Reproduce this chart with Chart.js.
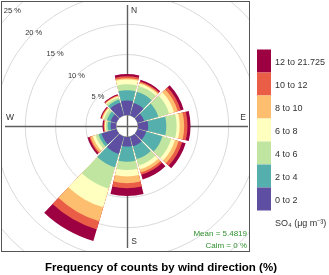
<!DOCTYPE html>
<html><head><meta charset="utf-8">
<script src="https://cdn.jsdelivr.net/npm/chart.js@4.4.0/dist/chart.umd.min.js"></script>
<style>html,body{margin:0;padding:0;background:#fff;overflow:hidden}canvas{display:block}</style>
</head><body>
<canvas id="c" width="329" height="275" style="width:329px;height:275px"></canvas>
<script>
// wind direction sectors (30 degree bins, clockwise from north)
const directions = ['N', '30', '60', 'E', '120', '150', 'S', '210', '240', 'W', '300', '330'];
// SO4 concentration bands
const bandLabels = ['0 to 2', '2 to 4', '4 to 6', '6 to 8', '8 to 10', '10 to 12', '12 to 21.725'];
const bandColors = ['#5E4FA2', '#55AFAD', '#BFE5A0', '#FFFFBF', '#FDBF6F', '#EA5D47', '#9E0142'];
// frequency of counts (%) per band, per direction
const f0to2   = [2.40, 2.15, 1.15, 1.70, 1.50, 1.70, 1.60, 3.00, 2.60, 0.90, 1.00, 2.20];
const f2to4   = [1.70, 1.95, 2.45, 3.00, 2.80, 2.20, 2.50, 2.30, 0.50, 0.50, 0.65, 0.55];
const f4to6   = [1.00, 1.00, 1.85, 1.70, 1.50, 1.10, 1.35, 3.70, 0.50, 0.30, 0.50, 0.35];
const f6to8   = [0.80, 0.40, 0.85, 0.50, 0.65, 0.70, 1.10, 3.20, 0.50, 0.15, 0.25, 0.20];
const f8to10  = [0.20, 0.20, 0.65, 0.75, 0.65, 0.50, 1.10, 2.40, 0.40, 0.10, 0.15, 0.10];
const f10to12 = [0.30, 0.20, 0.50, 0.55, 0.60, 0.40, 0.85, 1.40, 0.20, 0.10, 0.10, 0.10];
const f12up   = [0.40, 0.25, 0.50, 0.50, 0.60, 0.80, 1.25, 2.00, 0.30, 0.20, 0.15, 0.15];
// grid circle values (%)
const gridTicks = [5, 10, 15, 20, 25];
const meanText = 'Mean = 5.4819';
const calmText = 'Calm = 0 %';
const titleText = 'Frequency of counts by wind direction (%)';
const unitText = 'SO\u2084 (\u03bcg m\u207b\u00b3)';

const bands = [f0to2, f2to4, f4to6, f6to8, f8to10, f10to12, f12up];
// stacked (cumulative) radii for the rose
const cumulative = bands.map((b, k) => directions.map((_, i) => {
  let s = 0; for (let j = 0; j <= k; j++) s += bands[j][i]; return s;
}));

const FONT = '"Liberation Sans", Arial, sans-serif';

const roseDecor = {
  id: 'roseDecor',
  afterDatasetsUpdate(chart) {
    const s = chart.scales.r;
    const inner = s.getDistanceFromCenterForValue(0);
    const gap = 1.3 * Math.PI / 180;
    chart.data.datasets.forEach((ds, di) => {
      chart.getDatasetMeta(di).data.forEach(arc => {
        arc.innerRadius = inner;
        arc.startAngle += gap;
        arc.endAngle -= gap;
      });
    });
  },
  beforeDatasetsDraw(chart) {
    const ctx = chart.ctx, s = chart.scales.r;
    const cx = s.xCenter, cy = s.yCenter;
    ctx.save();
    ctx.beginPath();
    ctx.rect(cx - 125.5, cy - 124.5, 248, 250);
    ctx.clip();
    ctx.strokeStyle = '#d9d9d9';
    ctx.lineWidth = 1;
    [0].concat(gridTicks).forEach(v => {
      ctx.beginPath();
      ctx.arc(cx, cy, s.getDistanceFromCenterForValue(v), 0, Math.PI * 2);
      ctx.stroke();
    });
    const L = s.drawingArea - 3;
    ctx.strokeStyle = '#5f5f5f';
    ctx.lineWidth = 1.4;
    ctx.beginPath();
    ctx.moveTo(cx + 0.5, cy - L + 1); ctx.lineTo(cx + 0.5, cy + L);
    ctx.moveTo(cx - L, cy + 0.5); ctx.lineTo(cx + L - 1, cy + 0.5);
    ctx.stroke();
    ctx.restore();
  },
  afterDraw(chart) {
    const ctx = chart.ctx, s = chart.scales.r;
    const cx = s.xCenter, cy = s.yCenter;
    ctx.save();
    // grid labels along 315 degrees
    ctx.fillStyle = '#333';
    ctx.font = '7.5px ' + FONT;
    ctx.textAlign = 'center';
    ctx.textBaseline = 'middle';
    gridTicks.forEach(v => {
      const r = s.getDistanceFromCenterForValue(v);
      ctx.fillText(v + ' %', cx - r * Math.SQRT1_2, cy - r * Math.SQRT1_2);
    });
    // compass labels
    ctx.font = '8.5px ' + FONT;
    ctx.fillStyle = '#333';
    ctx.fillText('N', cx + 7, cy - 115);
    ctx.fillText('S', cx + 7, cy + 116);
    ctx.fillText('E', cx + 116, cy - 8);
    ctx.fillText('W', cx - 117, cy - 8);
    // panel border
    ctx.strokeStyle = '#555';
    ctx.lineWidth = 1;
    ctx.strokeRect(cx - 125.5, cy - 124.5, 248, 250);
    // mean / calm
    ctx.fillStyle = '#2f8f2f';
    ctx.font = '8px ' + FONT;
    ctx.textAlign = 'right';
    ctx.fillText(meanText, cx + 120, cy + 108);
    ctx.fillText(calmText, cx + 120, cy + 120);
    // colour key
    const kx = 257, ky = 49.5, kh = 23, kw = 14;
    ctx.textAlign = 'left';
    ctx.font = '9px ' + FONT;
    for (let k = bandLabels.length - 1, row = 0; k >= 0; k--, row++) {
      ctx.fillStyle = bandColors[k];
      ctx.fillRect(kx, ky + row * kh, kw, kh);
      ctx.fillStyle = '#333';
      ctx.fillText(bandLabels[k], kx + 18, ky + row * kh + kh / 2 + 2);
    }
    ctx.fillText(unitText, kx + 18, ky + 7 * kh + 13);
    // title
    ctx.fillStyle = '#000';
    ctx.font = 'bold 11.5px ' + FONT;
    ctx.textAlign = 'center';
    ctx.fillText(titleText, 161, 268);
    ctx.restore();
  }
};

new Chart(document.getElementById('c'), {
  type: 'polarArea',
  data: {
    labels: directions,
    datasets: bandLabels.map((lab, k) => ({
      label: lab,
      data: cumulative[k],
      backgroundColor: bandColors[k],
      borderWidth: 0
    }))
  },
  options: {
    responsive: false,
    animation: false,
    devicePixelRatio: 1,
    layout: { padding: { left: 2, right: 77, top: 1, bottom: 23 } },
    plugins: { legend: { display: false }, tooltip: { enabled: false }, title: { display: false } },
    scales: {
      r: {
        min: -1.8, max: 18.85, startAngle: -15,
        grid: { display: false }, angleLines: { display: false },
        ticks: { display: false }, pointLabels: { display: false }
      }
    }
  },
  plugins: [roseDecor]
});
</script>
</body></html>
